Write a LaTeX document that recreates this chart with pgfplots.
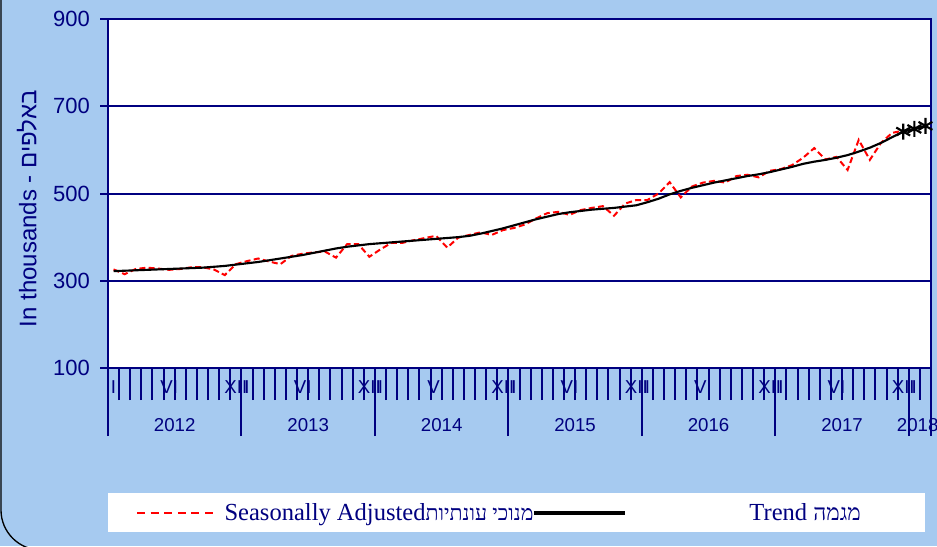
\documentclass[border=0pt]{standalone}
\usepackage{pgfplots}
\usepackage{pgfplotstable}
\pgfplotsset{compat=1.18}
\usepackage{fontspec}
\setmainfont{Liberation Sans}
\newfontfamily\hebsans[Script=Hebrew]{Liberation Sans}
\newfontfamily\serif{Liberation Serif}
\newfontfamily\hebserif[Script=Hebrew]{Liberation Serif}
\TeXXeTstate=1
\definecolor{navy}{RGB}{0,0,128}
\definecolor{bgblue}{RGB}{166,202,240}

\pgfplotstableread{
x y
0.5 326
1.5 315
2.5 327
3.5 330
4.5 328
5.5 325
6.5 327
7.5 331
8.5 331
9.5 326
10.5 313
11.5 338
12.5 345
13.5 351
14.5 344
15.5 338
16.5 357
17.5 362
18.5 365
19.5 367
20.5 353
21.5 384
22.5 384
23.5 355
24.5 372
25.5 387
26.5 387
27.5 393
28.5 398
29.5 403
30.5 376
31.5 399
32.5 405
33.5 411
34.5 405
35.5 416
36.5 421
37.5 429
38.5 443
39.5 455
40.5 458
41.5 451
42.5 462
43.5 467
44.5 471
45.5 449
46.5 477
47.5 485
48.5 485
49.5 500
50.5 526
51.5 491
52.5 516
53.5 525
54.5 529
55.5 525
56.5 540
57.5 543
58.5 537
59.5 552
60.5 556
61.5 565
62.5 582
63.5 604
64.5 578
65.5 584
66.5 554
67.5 623
68.5 577
69.5 616
70.5 639
71.5 644
}\sadata

\pgfplotstableread{
x y
0.5 322
1.5 323
2.5 324
3.5 325
4.5 326
5.5 327
6.5 328
7.5 329
8.5 330
9.5 332
10.5 334
11.5 337
12.5 340
13.5 343
14.5 347
15.5 351
16.5 355
17.5 359
18.5 364
19.5 369
20.5 374
21.5 378
22.5 381
23.5 384
24.5 386
25.5 388
26.5 390
27.5 392
28.5 394
29.5 396
30.5 398
31.5 400
32.5 403
33.5 408
34.5 414
35.5 420
36.5 427
37.5 434
38.5 441
39.5 447
40.5 453
41.5 457
42.5 460
43.5 463
44.5 465
45.5 467
46.5 470
47.5 473
48.5 480
49.5 488
50.5 498
51.5 506
52.5 513
53.5 519
54.5 525
55.5 530
56.5 535
57.5 540
58.5 544
59.5 549
60.5 555
61.5 561
62.5 568
63.5 573
64.5 577
65.5 582
66.5 588
67.5 596
68.5 605
69.5 616
70.5 629
71.5 642
72.5 648
73.5 655
}\trenddata

\pgfplotstableread{
x y
71.5 642
72.5 648
73.5 655
}\trendmarks

\begin{document}
\begin{tikzpicture}
\path[use as bounding box] (0,0) rectangle (702.75pt,409.5pt);
\fill[bgblue] (0,0) rectangle (702.75pt,409.5pt);
\draw[black,line width=1pt,rounded corners=30pt] (0.75pt,500pt) -- (0.75pt,-3pt) -- (760pt,-3pt);
\fill[white] (81pt,10.5pt) rectangle (693.75pt,39.75pt);
\begin{axis}[
  at={(81pt,133.5pt)}, anchor=south west,
  width=617.25pt, height=261.75pt, scale only axis,
  xmin=0, xmax=74, ymin=100, ymax=900,
  clip=false,
  axis background/.style={fill=white},
  axis line style={navy, line width=1.5pt},
  tick align=outside,
  xtick pos=bottom, ytick pos=left,
  ytick={100,300,500,700,900},
  ymajorgrids, grid style={navy, line width=1.5pt},
  major tick length=6pt,
  tick style={navy, line width=1.5pt},
  major x tick style={draw=none},
  minor tick length=24pt,
  minor xtick={0,1,...,74},
  xtick={0.5,5.5,11.5,12.5,17.5,23.5,24.5,29.5,35.5,36.5,41.5,47.5,48.5,53.5,59.5,60.5,65.5,71.5,72.5},
  xticklabels={I,VI,XII,I,VI,XII,I,VI,XII,I,VI,XII,I,VI,XII,I,VI,XII,I},
  extra x ticks={0,12,24,36,48,60,72,74},
  extra x tick labels={},
  extra x tick style={major tick length=51pt, major x tick style={draw=navy, line width=1.5pt}, grid=none},
  /pgf/number format/assume math mode=true,
  yticklabel style={font=\fontsize{16.5}{16.5}\selectfont, text=navy, xshift=-4pt},
  xticklabel style={font=\fontsize{14}{14}\selectfont, text=navy},
  ylabel={In thousands - {\hebsans\beginR באלפים\endR}},
  ylabel style={font=\fontsize{18}{18}\selectfont, text=navy, at={(axis description cs:-0.0985,0.456)}, anchor=center},
  legend columns=2,
  legend style={draw=none, fill=none, at={(rel axis cs:0,0)}, anchor=west, xshift=21pt, yshift=-108.75pt,
    font=\serif\fontsize{18.4}{18.4}\selectfont, text=navy, inner sep=0pt,
    /tikz/every odd column/.append style={column sep=6pt}},
  legend cell align=left,
]
\addplot[red, line width=1.5pt, dash pattern=on 4.5pt off 2.5pt,
  legend image code/.code={\draw[red, line width=1.2pt, dash pattern=on 6pt off 4.2pt] (0pt,0pt) -- (57pt,0pt);}]
  table[x=x,y=y] {\sadata};
\addlegendentry{Seasonally Adjusted{\hebserif\fontsize{16}{16}\selectfont\beginR מנוכי עונתיות\endR}\hspace*{-3pt}}
\addplot[black, line width=1.6pt,
  legend image code/.code={\draw[black, line width=3pt] (0pt,0pt) -- (68pt,0pt);}]
  table[x=x,y=y] {\trenddata};
\addlegendentry{\hspace*{84pt}Trend {\hebserif\fontsize{17}{17}\selectfont\beginR מגמה\endR}}
\addplot[black, only marks, mark=asterisk, mark size=6pt, line width=1.6pt, forget plot]
  table[x=x,y=y] {\trendmarks};
\node[font=\fontsize{14}{14}\selectfont, text=navy, yshift=-42.75pt] at (axis cs:6,100) {2012};
\node[font=\fontsize{14}{14}\selectfont, text=navy, yshift=-42.75pt] at (axis cs:18,100) {2013};
\node[font=\fontsize{14}{14}\selectfont, text=navy, yshift=-42.75pt] at (axis cs:30,100) {2014};
\node[font=\fontsize{14}{14}\selectfont, text=navy, yshift=-42.75pt] at (axis cs:42,100) {2015};
\node[font=\fontsize{14}{14}\selectfont, text=navy, yshift=-42.75pt] at (axis cs:54,100) {2016};
\node[font=\fontsize{14}{14}\selectfont, text=navy, yshift=-42.75pt] at (axis cs:66,100) {2017};
\node[font=\fontsize{14}{14}\selectfont, text=navy, yshift=-42.75pt] at (axis cs:72.8,100) {2018};
\end{axis}
\end{tikzpicture}
\end{document}
